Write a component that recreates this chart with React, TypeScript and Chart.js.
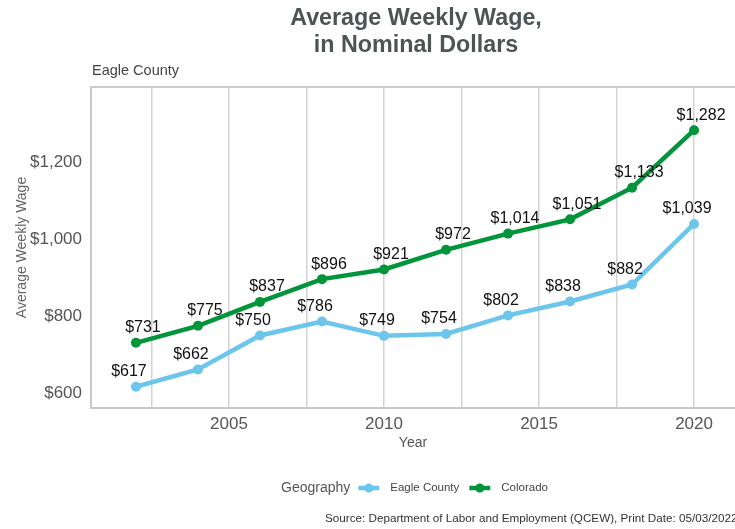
import React, { useEffect, useRef } from "react";
import { Chart, registerables } from "chart.js";

Chart.register(...registerables);

const years = [2002, 2004, 2006, 2008, 2010, 2012, 2014, 2016, 2018, 2020];
const eagleCounty = [617, 662, 750, 786, 749, 754, 802, 838, 882, 1039];
const colorado = [731, 775, 837, 896, 921, 972, 1014, 1051, 1133, 1282];
const xGridTicks = [2002.5, 2005, 2007.5, 2010, 2012.5, 2015, 2017.5, 2020];
const yTicks = [600, 800, 1000, 1200];
const seriesNames = ["Eagle County", "Colorado"];
const seriesColors = ["#6cc5ea", "#00953a"];

const FONT = "'Liberation Sans', Arial, Helvetica, sans-serif";

const fmt = (v: number) => "$" + v.toLocaleString("en-US");

export default function App() {
  const ref = useRef<HTMLCanvasElement | null>(null);

  useEffect(() => {
    if (!ref.current) return;
    const decor = {
      id: "decor",
      beforeDraw(chart: any) {
        const { ctx } = chart;
        ctx.save();
        ctx.fillStyle = "#ffffff";
        ctx.fillRect(0, 0, chart.width, chart.height);
        ctx.restore();
      },
      afterDatasetsDraw(chart: any) {
        const { ctx, chartArea } = chart;
        ctx.save();
        // top border of plot
        ctx.strokeStyle = "#cccccc";
        ctx.lineWidth = 2;
        ctx.beginPath();
        ctx.moveTo(chartArea.left, chartArea.top);
        ctx.lineTo(chartArea.right, chartArea.top);
        ctx.stroke();
        // data labels
        ctx.fillStyle = "#111111";
        ctx.font = `16px ${FONT}`;
        ctx.textAlign = "center";
        ctx.textBaseline = "middle";
        chart.data.datasets.forEach((ds: any, i: number) => {
          const meta = chart.getDatasetMeta(i);
          const dx = ds.labelDx || 0;
          meta.data.forEach((pt: any, j: number) => {
            ctx.fillText(fmt(ds.data[j].y), pt.x + dx, pt.y - 15);
          });
        });
        ctx.restore();
      },
      afterDraw(chart: any) {
        const { ctx, chartArea } = chart;
        ctx.save();
        const cx = (chartArea.left + chartArea.right) / 2;
        // Title
        ctx.fillStyle = "#4d5454";
        ctx.font = `bold 23.3px ${FONT}`;
        ctx.textAlign = "center";
        ctx.textBaseline = "middle";
        ctx.fillText("Average Weekly Wage,", cx + 3, 19);
        ctx.fillText("in Nominal Dollars", cx + 3, 45.5);
        // Subtitle
        ctx.fillStyle = "#444444";
        ctx.font = `14.5px ${FONT}`;
        ctx.textAlign = "left";
        ctx.fillText("Eagle County", chartArea.left + 1, 71);
        // Legend
        let lx = 281;
        const ly = 488;
        ctx.fillStyle = "#555555";
        ctx.font = `14px ${FONT}`;
        ctx.fillText("Geography", lx, ly);
        lx += ctx.measureText("Geography").width + 8;
        ctx.font = `11.5px ${FONT}`;
        seriesNames.forEach((name, i) => {
          ctx.strokeStyle = seriesColors[i];
          ctx.fillStyle = seriesColors[i];
          ctx.lineWidth = 4.5;
          ctx.beginPath();
          ctx.moveTo(lx, ly);
          ctx.lineTo(lx + 21, ly);
          ctx.stroke();
          ctx.beginPath();
          ctx.arc(lx + 10.5, ly, 4.5, 0, Math.PI * 2);
          ctx.fill();
          lx += 32;
          ctx.fillStyle = "#444444";
          ctx.fillText(name, lx, ly);
          lx += ctx.measureText(name).width + 10;
        });
        // Source
        ctx.fillStyle = "#333333";
        ctx.font = `11.7px ${FONT}`;
        ctx.textAlign = "left";
        ctx.fillText(
          "Source: Department of Labor and Employment (QCEW), Print Date: 05/03/2022",
          325,
          519
        );
        ctx.restore();
      },
    };

    const chart = new Chart(ref.current, {
      type: "line",
      data: {
        datasets: [
          {
            label: seriesNames[0],
            data: years.map((y, i) => ({ x: y, y: eagleCounty[i] })),
            borderColor: seriesColors[0],
            backgroundColor: seriesColors[0],
            borderWidth: 4.5,
            pointRadius: 5,
            pointBorderWidth: 0,
            tension: 0,
            labelDx: -7,
          },
          {
            label: seriesNames[1],
            data: years.map((y, i) => ({ x: y, y: colorado[i] })),
            borderColor: seriesColors[1],
            backgroundColor: seriesColors[1],
            borderWidth: 4.5,
            pointRadius: 5,
            pointBorderWidth: 0,
            tension: 0,
            labelDx: 7,
          },
        ],
      },
      options: {
        responsive: false,
        animation: false,
        layout: {
          autoPadding: false,
          padding: { top: 87, right: 0, bottom: 61, left: 0 },
        },
        plugins: {
          legend: { display: false },
          title: { display: false },
          tooltip: { enabled: false },
        },
        scales: {
          x: {
            type: "linear",
            min: 2000.55,
            max: 2021.32,
            afterBuildTicks: (s: any) => {
              s.ticks = xGridTicks.map((v) => ({ value: v }));
            },
            afterFit: (s: any) => {
              s.height = 60;
              s.paddingLeft = 0;
              s.paddingRight = 0;
            },
            grid: { color: "#d3d3d3", lineWidth: 1.5, drawTicks: false },
            border: { display: true, color: "#c8c8c8", width: 2 },
            ticks: {
              padding: 6,
              color: "#555555",
              font: { size: 17, family: FONT },
              maxRotation: 0,
              autoSkip: false,
              callback: (v: any) => (Number(v) % 5 === 0 ? String(v) : ""),
            },
            title: {
              display: true,
              text: "Year",
              color: "#555555",
              font: { size: 14, family: FONT },
              padding: { top: 0, bottom: 16 },
            },
          },
          y: {
            type: "linear",
            min: 562,
            max: 1394,
            afterBuildTicks: (s: any) => {
              s.ticks = yTicks.map((v) => ({ value: v }));
            },
            afterFit: (s: any) => {
              s.width = 91;
            },
            grid: { display: false, drawTicks: false },
            border: { display: true, color: "#c8c8c8", width: 2 },
            ticks: {
              padding: 9,
              color: "#555555",
              font: { size: 17, family: FONT },
              callback: (v: any) => fmt(Number(v)),
            },
            title: {
              display: true,
              text: "Average Weekly Wage",
              color: "#666666",
              font: { size: 14, family: FONT },
              padding: { top: 14, bottom: 0 },
            },
          },
        },
      },
      plugins: [decor],
    } as any);
    return () => chart.destroy();
  }, []);

  return (
    <div style={{ position: "fixed", left: 0, top: 0, width: 735, height: 529 }}>
      <canvas ref={ref} width={735} height={529} style={{ display: "block" }} />
    </div>
  );
}
